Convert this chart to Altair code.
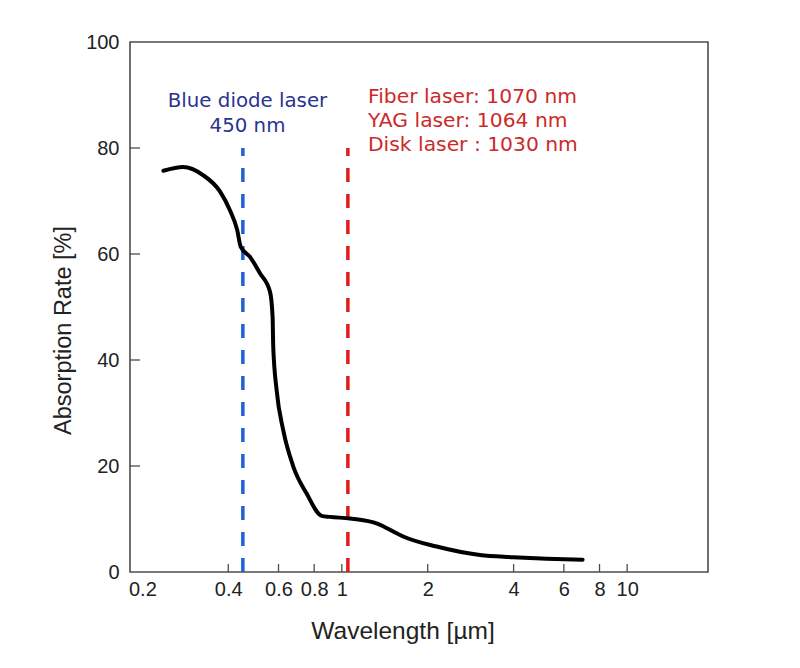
import altair as alt
import pandas as pd

# ---- data ----
wavelength_um = [0.237, 0.278, 0.326, 0.374, 0.405, 0.430, 0.442, 0.476, 0.516,
                 0.560, 0.572, 0.575, 0.591, 0.623, 0.676, 0.753, 0.850, 0.908,
                 1.068, 1.338, 1.556, 1.641, 2.149, 3.047, 3.987, 5.22, 6.98]
absorption_pct = [75.7, 76.4, 74.9, 71.8, 68.3, 64.5, 61.4, 59.5, 56.4,
                  52.9, 48.2, 42.5, 34.3, 26.8, 19.9, 14.8, 10.6, 10.4,
                  10.1, 9.1, 7.3, 6.7, 4.8, 3.2, 2.8, 2.5, 2.3]

blue_laser_um = [0.45]
red_laser_um = [1.05]
laser_top_pct = [80]

x_tick_labels = [0.2, 0.4, 0.6, 0.8, 1, 2, 4, 6, 8, 10]
x_inner_ticks = [0.4, 0.6, 0.8, 1, 2, 4, 6, 8, 10]
y_tick_labels = [0, 20, 40, 60, 80, 100]
y_inner_ticks = [20, 40, 60, 80]

blue_label_lines = ["Blue diode laser", "450 nm"]
red_label_lines = ["Fiber laser: 1070 nm", "YAG laser: 1064 nm", "Disk laser : 1030 nm"]

x_title = "Wavelength [µm]"
y_title = "Absorption Rate [%]"

# ---- styling ----
W, H = 578, 530
GRAY = "#4d4d4d"
xscale = alt.Scale(type="log", domain=[0.181, 19.2], nice=False, zero=False)
yscale = alt.Scale(domain=[0, 100], nice=False, zero=True)

xaxis = alt.Axis(values=x_tick_labels, format="~g", title=x_title,
                 labelBaseline="alphabetic", labelPadding=23, tickSize=0,
                 titleX=272.5, titleY=66, titleAlign="center",
                 titleBaseline="alphabetic", titleFontSize=24.5)
yaxis = alt.Axis(values=y_tick_labels, title=y_title, labelPadding=11, tickSize=0,
                 titleX=-67, titleY=288, titleAngle=270, titleAlign="center",
                 titleBaseline="middle", titleFontSize=23.5)


def X(field):
    return alt.X(field, type="quantitative", scale=xscale, axis=xaxis, title=x_title)


def Y(field):
    return alt.Y(field, type="quantitative", scale=yscale, axis=yaxis, title=y_title)


curve_df = pd.DataFrame({"w": wavelength_um, "a": absorption_pct})
curve = alt.Chart(curve_df).mark_line(
    color="black", strokeWidth=4, interpolate="monotone",
    strokeCap="round", strokeJoin="round"
).encode(x=X("w"), y=Y("a"))

blue_df = pd.DataFrame({"w": blue_laser_um, "lo": [0], "hi": laser_top_pct})
red_df = pd.DataFrame({"w": red_laser_um, "lo": [0], "hi": laser_top_pct})

blue_line = alt.Chart(blue_df).mark_rule(
    color="#2160d6", strokeWidth=3.5, strokeDash=[14, 12]
).encode(x=X("w"), y=Y("lo"), y2="hi")
red_line = alt.Chart(red_df).mark_rule(
    color="#e01c1c", strokeWidth=3.5, strokeDash=[14, 12]
).encode(x=X("w"), y=Y("lo"), y2="hi")

xt_df = pd.DataFrame({"w": x_inner_ticks})
x_ticks = alt.Chart(xt_df).mark_rule(color=GRAY, strokeWidth=1.3).encode(
    x=X("w"), y=alt.value(H), y2=alt.value(H - 8))

yt_df = pd.DataFrame({"a": y_inner_ticks})
y_ticks = alt.Chart(yt_df).mark_rule(color=GRAY, strokeWidth=1.3).encode(
    y=Y("a"), x=alt.value(0), x2=alt.value(10))

blue_txt = alt.Chart(pd.DataFrame({"t": ["\n".join(blue_label_lines)]})).mark_text(
    lineBreak="\n", lineHeight=25, font="DejaVu Sans", fontSize=19.8,
    color="#2a3490", align="center", baseline="alphabetic"
).encode(text="t:N", x=alt.value(117.5), y=alt.value(64.5))

red_txt = alt.Chart(pd.DataFrame({"t": ["\n".join(red_label_lines)]})).mark_text(
    lineBreak="\n", lineHeight=24.4, font="DejaVu Sans", fontSize=20.3,
    color="#cc2a2a", align="left", baseline="alphabetic"
).encode(text="t:N", x=alt.value(238), y=alt.value(60.5))

chart = alt.layer(
    x_ticks, y_ticks, blue_line, red_line, curve, blue_txt, red_txt
).properties(
    width=W, height=H,
    autosize=alt.AutoSizeParams(type="none"),
    padding={"left": 122, "top": 34, "right": 70, "bottom": 80},
    background="white",
).configure_view(
    stroke=GRAY, strokeWidth=1.6
).configure_axis(
    grid=False, domain=False, ticks=False,
    labelFont="Liberation Sans", titleFont="Liberation Sans",
    labelFontSize=20, titleFontWeight="normal",
    labelColor="#222222", titleColor="#222222",
)

chart.save("out.html", embed_options={"renderer": "svg", "actions": False})
